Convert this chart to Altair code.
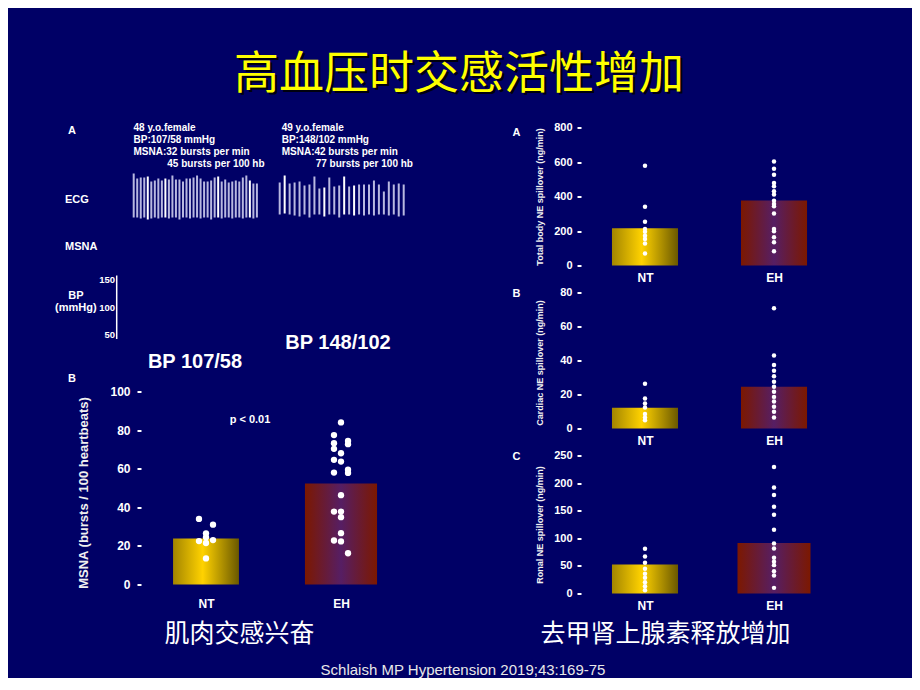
import altair as alt
import pandas as pd

# ------------------------------------------------------------------ data
GROUPS = ["NT", "EH"]

# Left panel B: MSNA (bursts / 100 heartbeats)
MSNA_MEANS = [23.8, 52.3]
MSNA_NT = [34, 31, 26.5, 24.5, 22.5, 21.5, 23, 13.5]
MSNA_NT_SIDE = [-1, 1, 0, 0, -1, 0, 1, 0]
MSNA_EH = [84, 77.4, 73.2, 74.4, 72.7, 70.3, 68, 64.6, 63.7, 58, 59.5, 57.8,
           46.3, 37.8, 37.8, 34.9, 26.6, 22.8, 22.3, 16.2]
MSNA_EH_SIDE = [0, -1, -1, 1, 1, -1, 0, -1, 0, -1, 1, 1, 0, -1, 0, 0, 0, -1, 0, 1]

# Right panel A: total body NE spillover (ng/min)
TOT_MEANS = [216, 377]
TOT_NT = [578, 341, 254, 212, 195, 172, 153, 127, 69]
TOT_EH = [603, 561, 526, 478, 459, 430, 411, 376, 356, 343, 302, 212, 198, 164, 135, 83]

# Right panel B: cardiac NE spillover (ng/min)
CAR_MEANS = [12.2, 24.5]
CAR_NT = [26.3, 17.6, 14.7, 12.4, 8.5, 6.5, 4.9]
CAR_EH = [70.8, 43, 37.3, 34, 30.8, 27.5, 24.5, 21.6, 18.6, 15.9, 12.8, 9.8, 6.5]

# Right panel C: renal NE spillover (ng/min)
REN_MEANS = [52.7, 91.4]
REN_NT = [81, 67, 55.6, 44.7, 35.6, 28.4, 20.5, 13.3, 6]
REN_EH = [229, 192, 178.6, 157, 142.8, 115.6, 90.8, 81.7, 64.7, 57.4, 51.4, 40.5, 32.7, 10.2]

# ECG traces: R-wave height and S-wave depth of each beat
ECG1_R = [24, 19, 20, 20, 21, 16, 17, 19, 17, 19, 18, 22, 18, 18, 16, 19, 19, 20,
          22, 19, 16, 16, 17, 20, 21, 16, 18, 15, 16, 17, 16, 20, 22, 17, 14, 14]
ECG1_S = [20, 20, 21, 20, 22, 21, 20, 21, 20, 20, 21, 20, 20, 22, 20, 20, 21, 20,
          20, 21, 20, 20, 22, 20, 20, 21, 20, 20, 21, 20, 20, 21, 20, 20, 21, 20]
ECG1_BRIGHT = [4, 9, 24, 33]
ECG2_R = [15, 22, 14, 15, 16, 12, 13, 21, 9, 10, 20, 11, 12, 21, 11, 12, 13, 13,
          13, 17, 13, 6, 16, 13, 14, 13]
ECG2_S = [17, 16, 17, 18, 19, 17, 20, 17, 17, 19, 17, 17, 20, 17, 17, 18, 17, 18,
          17, 18, 17, 17, 18, 17, 19, 18]
ECG2_BRIGHT = [1, 9, 13, 15]

CASE1 = ["48 y.o.female", "BP:107/58 mmHg", "MSNA:32 bursts per min", "45 bursts per 100 hb"]
CASE2 = ["49 y.o.female", "BP:148/102 mmHg", "MSNA:42 bursts per min", "77 bursts per 100 hb"]
BP_TICKS = ["150", "100", "50"]

TITLE = "高血压时交感活性增加"
CAPTION_L = "肌肉交感兴奋"
CAPTION_R = "去甲肾上腺素释放增加"
CITATION = "Schlaish MP Hypertension 2019;43:169-75"

# ------------------------------------------------------------------ style
BG = "#000066"
SANS = "Liberation Sans, Arial, sans-serif"
CJK = "Noto Sans CJK SC"
NT_GRAD = alt.LinearGradient(gradient="linear", x1=0, x2=1, y1=0, y2=0, stops=[
    alt.GradientStop(offset=0, color="#a38500"),
    alt.GradientStop(offset=0.45, color="#ffd200"),
    alt.GradientStop(offset=1, color="#6a5800")])
EH_GRAD = alt.LinearGradient(gradient="linear", x1=0, x2=1, y1=0, y2=0, stops=[
    alt.GradientStop(offset=0, color="#7c1800"),
    alt.GradientStop(offset=0.5, color="#561e64"),
    alt.GradientStop(offset=1, color="#7c1800")])


def y_axis(values, title, tsize, lsize, lpad, tx, ty):
    return alt.Axis(values=values, title=title, titleFont=SANS, titleFontSize=tsize,
                    titleFontWeight="bold", titleColor="#f0f0f0", titleAngle=270,
                    titleX=tx, titleY=ty, titleAlign="center", titleBaseline="middle",
                    labelFont=SANS, labelFontSize=lsize, labelFontWeight="bold",
                    labelColor="white", labelPadding=lpad, ticks=True, tickColor="white",
                    tickSize=4, tickWidth=2, domain=False, grid=False)


def x_axis(lpad, caption=None, cx=0, cy=0):
    kw = dict(values=[1, 2], labelExpr=f"datum.value == 1 ? '{GROUPS[0]}' : '{GROUPS[1]}'",
              ticks=False, domain=False, grid=False, labelFont=SANS, labelFontSize=12,
              labelFontWeight="bold", labelColor="white", labelPadding=lpad)
    if caption:
        kw.update(title=caption, titleFont=CJK, titleFontSize=25, titleFontWeight="normal",
                  titleColor="white", titleX=cx, titleY=cy, titleAlign="center",
                  titleBaseline="middle")
    else:
        kw["title"] = None
    return alt.Axis(**kw)


def bar_panel(nt, eh, nt_side, eh_side, means, ymax, ystep, ytitle, tsize, lsize, lpad,
              tx, ty, w, h, dom, half, jit, dot, xpad, caption=None, cx=0, cy=0):
    bars = pd.DataFrame({"grp": GROUPS, "pos": [1, 2], "mean": means})
    bars["lo"] = bars["pos"] - pd.Series(half)
    bars["hi"] = bars["pos"] + pd.Series(half)
    pts = pd.DataFrame({
        "grp": [GROUPS[0]] * len(nt) + [GROUPS[1]] * len(eh),
        "pos": [1] * len(nt) + [2] * len(eh),
        "val": nt + eh,
        "side": nt_side + eh_side,
    })
    xs = alt.Scale(domain=dom, nice=False, zero=False)
    ys = alt.Scale(domain=[0, ymax], nice=False, zero=True)
    xa = x_axis(xpad, caption, cx, cy)
    ya = y_axis(list(range(0, ymax + 1, ystep)), ytitle, tsize, lsize, lpad, tx, ty)
    layers = []
    for g, grad in zip(GROUPS, [NT_GRAD, EH_GRAD]):
        layers.append(
            alt.Chart(bars).transform_filter(alt.datum.grp == g).mark_rect(color=grad).encode(
                x=alt.X("lo:Q", scale=xs, axis=xa), x2="hi:Q",
                y=alt.Y("mean:Q", scale=ys, axis=ya), y2=alt.datum(0)))
    layers.append(
        alt.Chart(pts).transform_calculate(px=f"datum.pos + datum.side * {jit}")
        .mark_circle(color="white", size=dot, opacity=1).encode(
            x=alt.X("px:Q", scale=xs, axis=xa),
            y=alt.Y("val:Q", scale=ys, axis=ya)))
    return alt.layer(*layers).properties(width=w, height=h)


# ------------------------------------------------------------------ left top: traces + notes
CX = alt.Scale(domain=[141, 406], nice=False, zero=False)
CY = alt.Scale(domain=[126, 370], nice=False, zero=False, reverse=True)


def enc_xy():
    return dict(x=alt.X("x:Q", scale=CX, axis=None), y=alt.Y("y:Q", scale=CY, axis=None))


def texts(rows, **kw):
    df = pd.DataFrame(rows, columns=["x", "y", "t"])
    return alt.Chart(df).mark_text(**kw).encode(text="t:N", **enc_xy())


ecg_rows = []
for x0, step, base, R, S, bright in [(133.7, 3.52, 196, ECG1_R, ECG1_S, ECG1_BRIGHT),
                                     (279.7, 4.96, 196, ECG2_R, ECG2_S, ECG2_BRIGHT)]:
    for i, (r, s) in enumerate(zip(R, S)):
        ecg_rows.append({"x": x0 + i * step, "y": base - r, "y2": base + s,
                         "c": "w" if i in bright else "l"})
ecg = alt.Chart(pd.DataFrame(ecg_rows)).mark_rule(strokeWidth=2).encode(
    y2="y2:Q",
    color=alt.Color("c:N", scale=alt.Scale(domain=["w", "l"], range=["#ffffff", "#b8b8e0"]),
                    legend=None),
    **enc_xy())

bp_axis = alt.Chart(pd.DataFrame({"x": [116.7], "y": [274], "y2": [337.5]})).mark_rule(
    color="white", strokeWidth=1.5).encode(y2="y2:Q", **enc_xy())

bold10 = dict(font=SANS, fontSize=10, fontWeight="bold", color="white", align="left",
              baseline="middle")
case_rows = []
for xl, xi, lines in [(133.5, 167.3, CASE1), (281.7, 315.7, CASE2)]:
    for k, (yy, line) in enumerate(zip([126, 138.3, 150.6, 162.3], lines)):
        case_rows.append((xi if k == 3 else xl, yy, line))

canvas = alt.layer(
    texts([(461.5, 75.5, TITLE)], font=CJK, fontSize=45, color="#000000", opacity=0.85,
          align="center", baseline="middle"),
    texts([(459, 73, TITLE)], font=CJK, fontSize=45, color="#ffff00",
          align="center", baseline="middle"),
    ecg,
    bp_axis,
    texts(case_rows, **bold10),
    texts([(68, 129, "A"), (65, 198, "ECG"), (65, 245, "MSNA"), (68, 377, "B"),
           (512.5, 131, "A"), (512.5, 292, "B"), (512.5, 455, "C")],
          font=SANS, fontSize=11, fontWeight="bold", color="white", align="left",
          baseline="middle"),
    texts([(76, 294, "BP")], font=SANS, fontSize=11, fontWeight="bold", color="white",
          align="center", baseline="middle"),
    texts([(55, 306.7, "(mmHg)")], font=SANS, fontSize=11, fontWeight="bold", color="white",
          align="left", baseline="middle"),
    texts([(115, 278, BP_TICKS[0]), (115, 306.5, BP_TICKS[1]), (115, 333.5, BP_TICKS[2])],
          font=SANS, fontSize=9.5, fontWeight="bold", color="white", align="right",
          baseline="middle"),
    texts([(338, 341, "BP 148/102"), (195, 360.5, "BP 107/58")], font=SANS, fontSize=20,
          fontWeight="bold", color="white", align="center", baseline="middle"),
    texts([(250, 418, "p < 0.01")], font=SANS, fontSize=11, fontWeight="bold", color="white",
          align="center", baseline="middle"),
    texts([(463, 668, CITATION)], font=SANS, fontSize=15, color="#e8e8e8",
          align="center", baseline="middle"),
).properties(width=265, height=244)

# ------------------------------------------------------------------ bar panels
msna = bar_panel(MSNA_NT, MSNA_EH, MSNA_NT_SIDE, MSNA_EH_SIDE, MSNA_MEANS, 100, 20,
                 "MSNA (bursts / 100 heartbeats)", 13, 12, 7, -58, 101,
                 265, 193, [0.5185, 2.4815], [0.244, 0.267], 0.052, 40, 14,
                 CAPTION_L, 98, 49)

RDOM = [0.504, 2.496]
zeros = lambda v: [0] * len(v)
tot = bar_panel(TOT_NT, TOT_EH, zeros(TOT_NT), zeros(TOT_EH), TOT_MEANS, 800, 200,
                "Total body NE spillover (ng/min)", 9, 11, 5, -42, 69,
                257, 138, RDOM, [0.256, 0.256], 0, 20, 7)
car = bar_panel(CAR_NT, CAR_EH, zeros(CAR_NT), zeros(CAR_EH), CAR_MEANS, 80, 20,
                "Cardiac NE spillover (ng/min)", 9, 11, 5, -42, 70,
                257, 136, RDOM, [0.256, 0.256], 0, 20, 7)
ren = bar_panel(REN_NT, REN_EH, zeros(REN_NT), zeros(REN_EH), REN_MEANS, 250, 50,
                "Ronal NE spillover (ng/min)", 9, 11, 5, -42, 69,
                257, 138, RDOM, [0.256, 0.283], 0, 20, 7,
                CAPTION_R, 84, 39.5)

left = alt.vconcat(canvas, msna, spacing=20, bounds="flush")
right = alt.vconcat(tot, car, ren, spacing=27, bounds="flush")

# with flush bounds the nested column reports no width, so the spacing spans
# the whole left column plus the gap between the two columns
chart = alt.hconcat(left, right, spacing=440, bounds="flush").properties(
    padding={"left": 47, "top": 44.5, "right": 74, "bottom": 0}
).configure(background=BG).configure_view(strokeWidth=0)

chart.save("out.html", embed_options={"renderer": "svg", "actions": False})
